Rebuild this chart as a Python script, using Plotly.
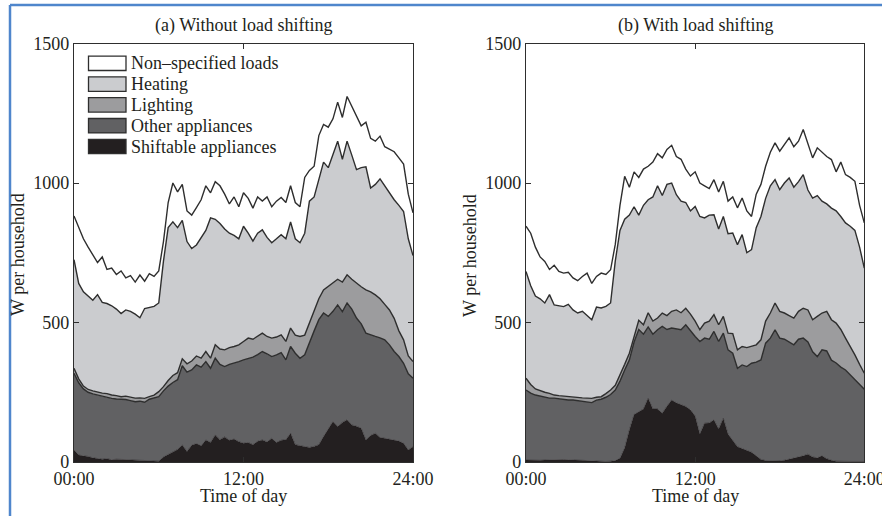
import numpy as np
import plotly.graph_objects as go

# Time grid (hours of day, 20-minute steps)
hours = [k / 3 for k in range(73)]
tick_vals_x = [0, 12, 24]
tick_text_x = ["00:00", "12:00", "24:00"]
tick_vals_y = [0, 500, 1000, 1500]
series_names = ["Non\u2013specified loads", "Heating", "Lighting", "Other appliances", "Shiftable appliances"]
panel_titles = ["(a) Without load shifting", "(b) With load shifting"]

# ---- Panel (a): cumulative boundary levels (W per household)
a_total = [882, 840, 800, 770, 742, 715, 735, 690, 695, 672, 685, 660, 668, 645, 670, 648, 675, 665, 685, 790,
           930, 1000, 968, 995, 900, 885, 912, 940, 990, 965, 1005, 990, 960, 925, 950, 915, 965, 945, 910, 950,
           935, 950, 915, 935, 948, 930, 990, 930, 915, 1020, 1045, 1060, 1170, 1210, 1200, 1230, 1290, 1235, 1310, 1275,
           1240, 1205, 1218, 1160, 1150, 1168, 1130, 1120, 1112, 1090, 1068, 960, 893]
a_heating_top = [725, 640, 610, 595, 580, 600, 572, 568, 560, 548, 532, 545, 540, 530, 517, 550, 555, 558, 570, 720,
                 840, 861, 840, 866, 790, 765, 778, 805, 830, 875, 870, 855, 835, 820, 812, 800, 845, 820, 792, 820,
                 832, 805, 786, 800, 815, 800, 860, 800, 786, 820, 935, 950, 1012, 1075, 1055, 1100, 1150, 1085, 1150, 1100,
                 1048, 1055, 1058, 982, 995, 1015, 990, 968, 940, 920, 898, 800, 740]
a_lighting_top = [336, 298, 272, 260, 255, 250, 247, 245, 240, 238, 234, 236, 232, 229, 230, 228, 234, 240, 252, 270,
                  292, 310, 320, 370, 352, 362, 380, 372, 396, 372, 420, 405, 402, 410, 414, 420, 432, 444, 440, 452,
                  462, 450, 444, 448, 456, 432, 480, 455, 450, 455, 500, 545, 585, 617, 629, 640, 655, 645, 671, 655,
                  641, 628, 617, 610, 599, 585, 565, 545, 515, 470, 438, 380, 360]
a_other_top = [318, 284, 262, 250, 244, 240, 234, 232, 228, 226, 225, 224, 220, 216, 218, 214, 225, 230, 234, 255,
               272, 285, 295, 345, 322, 330, 348, 340, 360, 336, 372, 350, 342, 350, 354, 360, 366, 372, 376, 385,
               396, 388, 378, 384, 392, 366, 414, 390, 372, 384, 430, 470, 510, 534, 522, 540, 563, 539, 570, 548,
               516, 495, 462, 455, 450, 445, 438, 420, 396, 378, 354, 316, 300]
a_shiftable_top = [43, 25, 22, 20, 15, 12, 10, 12, 8, 10, 9, 8, 7, 6, 5, 4, 3, 2, 3, 18,
                   28, 35, 45, 61, 38, 60, 66, 58, 79, 70, 97, 80, 90, 78, 82, 73, 67, 70, 62, 74,
                   79, 72, 85, 70, 78, 80, 103, 62, 58, 55, 52, 56, 62, 91, 118, 145, 127, 142, 151, 133,
                   128, 121, 79, 95, 103, 88, 85, 82, 79, 75, 67, 43, 55]

# ---- Panel (b)
b_total = [845, 820, 770, 735, 719, 690, 705, 683, 677, 680, 660, 650, 665, 677, 640, 665, 677, 672, 689, 780,
           920, 1024, 985, 1040, 1020, 1050, 1060, 1075, 1105, 1090, 1120, 1135, 1095, 1085, 1050, 1025, 1040, 1000, 990, 980,
           1012, 968, 1006, 935, 950, 911, 946, 900, 880, 960, 995, 1060, 1110, 1144, 1114, 1140, 1162, 1130, 1150, 1192,
           1144, 1090, 1126, 1110, 1095, 1084, 1040, 1075, 1030, 1020, 1006, 920, 857]
b_heating_top = [683, 632, 595, 585, 570, 600, 563, 560, 557, 565, 545, 534, 540, 525, 510, 555, 552, 558, 570, 720,
                 830, 870, 885, 915, 885, 920, 940, 950, 990, 955, 995, 1000, 958, 935, 930, 900, 916, 880, 875, 885,
                 886, 835, 880, 818, 821, 779, 815, 750, 761, 840, 880, 945, 990, 1012, 976, 1000, 1018, 985, 1005, 1030,
                 975, 946, 955, 935, 925, 910, 900, 880, 857, 845, 830, 770, 695]
b_lighting_top = [300, 278, 262, 255, 250, 246, 240, 238, 236, 234, 234, 232, 230, 229, 228, 232, 234, 245, 258, 275,
                  310, 350, 390, 450, 508, 492, 535, 505, 516, 534, 525, 540, 545, 535, 551, 530, 505, 474, 498, 505,
                  528, 492, 522, 462, 460, 402, 414, 410, 416, 420, 438, 505, 534, 570, 540, 534, 525, 516, 540, 551,
                  545, 510, 522, 534, 540, 510, 498, 475, 444, 415, 384, 350, 318]
b_other_top = [258, 247, 240, 236, 232, 229, 229, 226, 224, 222, 222, 220, 218, 215, 213, 222, 225, 232, 242, 258,
               290, 330, 366, 430, 475, 458, 484, 458, 474, 486, 475, 480, 478, 474, 492, 470, 450, 432, 444, 440,
               468, 432, 462, 402, 390, 336, 348, 342, 354, 358, 366, 426, 444, 474, 444, 440, 430, 420, 440, 444,
               430, 395, 378, 402, 398, 365, 355, 340, 330, 312, 294, 278, 261]
b_shiftable_top = [7, 6, 5, 6, 7, 8, 9, 10, 9, 8, 8, 7, 6, 5, 4, 4, 3, 2, 3, 5,
                   13, 50, 115, 170, 180, 190, 229, 190, 190, 175, 200, 222, 212, 205, 199, 187, 165, 100, 139, 140,
                   151, 118, 157, 100, 79, 55, 48, 42, 35, 22, 9, 5, 4, 4, 4, 6, 10, 13, 18, 22,
                   28, 18, 15, 22, 12, 6, 3, 2, 2, 2, 2, 2, 2]

fill_colors = ["#ffffff", "#cbcccf", "#9c9c9e", "#616163", "#231f20"]
edge = "#2e2e2e"
text_col = "#231f20"
FONT = "Liberation Serif"
FS = 18

W, H = 882, 516


def px(x):
    return x / W


def py(y):
    return 1 - y / H


def components(total, heat_top, light_top, other_top, shift_top):
    s = np.array(shift_top, float)
    o = np.maximum(np.array(other_top, float), s)
    l = np.maximum(np.array(light_top, float), o)
    h = np.maximum(np.array(heat_top, float), l)
    t = np.maximum(np.array(total, float), h)
    # bottom-to-top: shiftable, other, lighting, heating, non-specified
    return [s, o - s, l - o, h - l, t - h]


panels = [
    components(a_total, a_heating_top, a_lighting_top, a_other_top, a_shiftable_top),
    components(b_total, b_heating_top, b_lighting_top, b_other_top, b_shiftable_top),
]

fig = go.Figure()
bottom_up_names = series_names[::-1]
bottom_up_colors = fill_colors[::-1]
for i, comps in enumerate(panels):
    xa = "x" if i == 0 else "x2"
    ya = "y" if i == 0 else "y2"
    for j, (vals, name, col) in enumerate(zip(comps, bottom_up_names, bottom_up_colors)):
        line = dict(color=col, width=0.5) if j == 0 else dict(color=edge, width=1.4)
        fig.add_trace(go.Scatter(
            x=hours, y=vals, name=name, mode="lines", stackgroup=f"p{i}",
            fillcolor=col, line=line, xaxis=xa, yaxis=ya, showlegend=False,
        ))

ydom = [py(462), py(43.5)]
x_doms = [[px(74), px(413)], [px(526), px(864.3)]]

axis_common = dict(
    showline=True, linecolor=edge, linewidth=1.4, mirror="ticks", ticks="inside",
    ticklen=5, tickcolor=edge, tickwidth=1.2, showgrid=False, zeroline=False,
    tickfont=dict(family=FONT, size=FS, color=text_col), fixedrange=True, automargin=False,
    ticklabeloverflow="allow",
)

fig.update_layout(
    width=W, height=H, margin=dict(l=0, r=0, t=0, b=0, pad=0),
    paper_bgcolor="white", plot_bgcolor="white",
    xaxis=dict(domain=x_doms[0], range=[0, 24], tickvals=tick_vals_x, ticktext=tick_text_x,
               anchor="y", ticklabelstandoff=0, **axis_common),
    yaxis=dict(domain=ydom, range=[0, 1500], tickvals=tick_vals_y, anchor="x",
               ticklabelstandoff=0, **axis_common),
    xaxis2=dict(domain=x_doms[1], range=[0, 24], tickvals=tick_vals_x, ticktext=tick_text_x,
                anchor="y2", ticklabelstandoff=0, **axis_common),
    yaxis2=dict(domain=ydom, range=[0, 1500], tickvals=tick_vals_y, anchor="x2",
                ticklabelstandoff=0, **axis_common),
    showlegend=False,
)

annotations = []
shapes = []
centers = [243.5, 695.2]
ytitle_x = [18, 470]
for i in range(2):
    annotations.append(dict(text=panel_titles[i], x=px(centers[i]), y=py(26), xref="paper", yref="paper",
                            showarrow=False, xanchor="center", yanchor="middle",
                            font=dict(family=FONT, size=FS, color=text_col)))
    annotations.append(dict(text="Time of day", x=px(centers[i]), y=py(496), xref="paper", yref="paper",
                            showarrow=False, xanchor="center", yanchor="middle",
                            font=dict(family=FONT, size=FS, color=text_col)))
    annotations.append(dict(text="W per household", x=px(ytitle_x[i]), y=py(255), xref="paper", yref="paper",
                            showarrow=False, xanchor="center", yanchor="middle", textangle=-90,
                            font=dict(family=FONT, size=FS, color=text_col)))

# Legend (drawn manually inside panel a)
row_y = [63.3, 84.1, 104.9, 125.7, 146.5]
for name, col, ry in zip(series_names, fill_colors, row_y):
    shapes.append(dict(type="rect", xref="paper", yref="paper",
                       x0=px(88.5), x1=px(126), y0=py(ry - 7.2), y1=py(ry + 7.2),
                       fillcolor=col, line=dict(color=edge, width=1.3)))
    annotations.append(dict(text=name, x=px(129), y=py(ry), xref="paper", yref="paper",
                            showarrow=False, xanchor="left", yanchor="middle",
                            font=dict(family=FONT, size=FS, color=text_col)))

# Blue frame of the original screenshot (left and top edges)
frame_blue = "#4f86cc"
shapes.append(dict(type="line", xref="paper", yref="paper", x0=px(10), x1=px(10), y0=py(5), y1=0,
                   line=dict(color=frame_blue, width=2.5)))
shapes.append(dict(type="line", xref="paper", yref="paper", x0=px(10), x1=1, y0=py(5), y1=py(5),
                   line=dict(color=frame_blue, width=2.5)))

fig.update_layout(annotations=annotations, shapes=shapes)
fig.write_html("out.html", config={"displayModeBar": False},
               post_script="document.body.style.margin='0px';document.body.style.overflow='hidden';")
